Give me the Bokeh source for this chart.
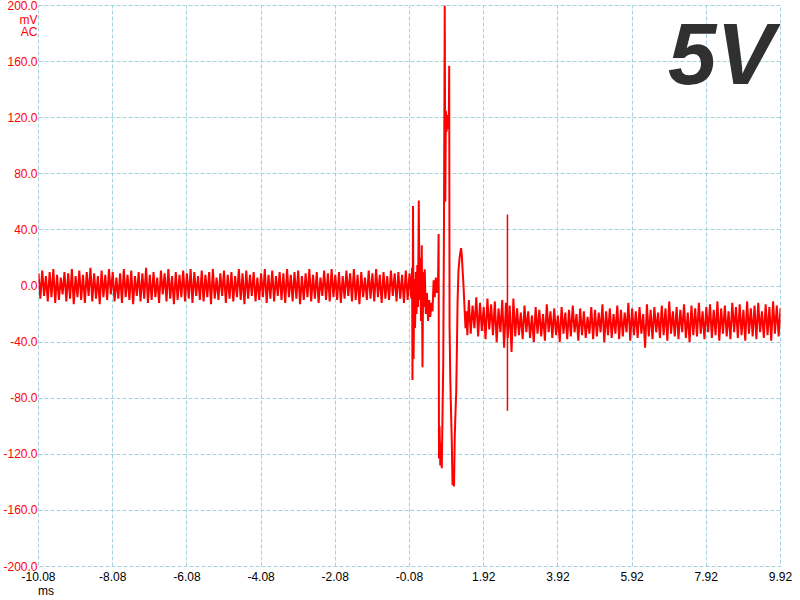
from bokeh.plotting import figure
from bokeh.models import FixedTicker, NumeralTickFormatter, Label, Range1d, LinearAxis
from bokeh.embed import file_html
from bokeh.resources import INLINE

# ---- axis ticks ----
x_ticks = [-10.08, -8.08, -6.08, -4.08, -2.08, -0.08, 1.92, 3.92, 5.92, 7.92, 9.92]
y_ticks = [-200, -160, -120, -80, -40, 0, 40, 80, 120, 160, 200]
y_unit_labels = {190: "mV", 181: "AC"}
x_unit_label = {-9.88: "ms"}

# ---- pre-trigger noise band (ms sampling start/step, mV peak readings) ----
pre_start, pre_step = -10.08, 0.1
pre_hi = [9, 11, 7, 10, 12, 8, 6, 10, 9, 12,
          7, 11, 8, 10, 13, 9, 7, 11, 8, 12,
          10, 6, 9, 12, 8, 11, 7, 10, 9, 13,
          8, 10, 6, 11, 9, 12, 7, 10, 8, 11,
          9, 12, 10, 7, 11, 8, 10, 12, 6, 9,
          11, 8, 10, 7, 12, 9, 11, 8, 10, 6,
          9, 12, 8, 11, 7, 10, 9, 12, 8, 10,
          11, 7, 9, 12, 8, 10, 6, 11, 9, 12,
          8, 10, 7, 11, 9, 12, 8, 10, 6, 11,
          9, 12, 8, 10, 7, 11, 9, 10, 8, 11, 9]
pre_lo = [-9, -7, -11, -8, -12, -10, -6, -11, -9, -13,
          -8, -10, -12, -7, -11, -9, -13, -8, -10, -6,
          -11, -9, -12, -8, -10, -13, -7, -11, -9, -12,
          -10, -8, -12, -6, -11, -9, -13, -10, -8, -11,
          -9, -12, -7, -10, -11, -8, -13, -9, -10, -7,
          -12, -9, -11, -8, -10, -13, -9, -7, -11, -10,
          -8, -12, -9, -11, -7, -10, -12, -8, -11, -9,
          -13, -10, -8, -11, -9, -12, -7, -10, -11, -8,
          -10, -12, -9, -7, -11, -10, -13, -8, -10, -9,
          -11, -8, -12, -9, -10, -7, -11, -9, -12, -10, -9]

# ---- trigger event (ms, mV) ----
event_t = [-0.01, 0.00, 0.015, 0.03, 0.05, 0.07, 0.09, 0.11, 0.13, 0.15,
           0.17, 0.19, 0.21, 0.23, 0.25, 0.27, 0.29, 0.31, 0.33, 0.36,
           0.39, 0.42, 0.45, 0.48, 0.51, 0.54, 0.57, 0.60, 0.63, 0.66,
           0.69, 0.705, 0.715, 0.73, 0.75, 0.77, 0.79, 0.81, 0.83, 0.85,
           0.87, 0.885, 0.90, 0.92, 0.94, 0.96, 0.98, 0.99, 1.00, 1.02,
           1.04, 1.06, 1.08, 1.10, 1.12, 1.14, 1.16, 1.18, 1.20, 1.215,
           1.24, 1.27, 1.29, 1.31, 1.33, 1.35, 1.376, 1.39, 1.41, 1.43,
           1.45, 1.48, 1.50]
event_v = [13, -67, 57, -52, 5, -30, 10, -20, 15, -15,
           61, -10, 20, -25, 29, -58, 10, -15, 12, -20,
           -5, -25, -10, -22, -12, -18, 4, -8, 6, -5,
           5, 37, -123, -100, -128, -112, -130, -91, -55, 47,
           200, 60, 125, 110, 122, 112, 118, 157, -29, -67,
           -90, -111, -142, -130, -143, -107, -90, -75, -41, -12,
           11, 20, 24, 27, 22, 12, 0, -8, -20, -30,
           -18, -35, -22]

# ---- post-trigger noise band ----
post_start, post_step = 1.52, 0.1
post_hi = [-10, -14, -8, -12, -15, -9, -13, -11, -16, -10, -12, -14, -9,
           -16, -19, -14, -18, -21, -15, -17, -20, -13, -18,
           -16, -21, -15, -19, -17, -14, -20, -16, -18, -22,
           -15, -17, -19, -13, -18, -16, -20, -14, -17, -19,
           -12, -16, -18, -15, -20, -13, -17, -15, -19, -14,
           -16, -11, -18, -15, -17, -13, -19, -14, -16, -12,
           -18, -15, -13, -17, -11, -16, -14, -18, -12, -15,
           -13, -17, -11, -16, -14, -12, -18, -13, -15, -11,
           -14, -16]
post_lo = [-34, -30, -36, -32, -38, -31, -35, -40, -33, -44, -37, -47, -36,
           -35, -38, -33, -37, -40, -34, -36, -39, -33, -37,
           -35, -40, -34, -38, -36, -33, -39, -35, -37, -34,
           -38, -36, -33, -40, -35, -37, -34, -38, -36, -33,
           -39, -35, -37, -34, -44, -36, -38, -33, -37, -35,
           -39, -34, -36, -38, -33, -37, -40, -35, -36, -34,
           -38, -33, -37, -35, -39, -34, -36, -38, -33, -37,
           -35, -39, -34, -36, -38, -33, -37, -35, -39, -34,
           -36, -35]

# ---- isolated glitch ----
glitch_t = [2.56]
glitch_hi = [51]
glitch_lo = [-89]

RED = "#ff0000"
GRID = "#a3d3df"
FONT = "Liberation Sans"


def zigzag(start, step, hi, lo):
    xs, ys = [], []
    for i, (h, l) in enumerate(zip(hi, lo)):
        t = start + step * i
        xs += [t, t + step / 2]
        ys += [h, l]
    return xs, ys


px, py = zigzag(pre_start, pre_step, pre_hi, pre_lo)
qx, qy = zigzag(post_start, post_step, post_hi, post_lo)
trace_x = px + event_t + qx
trace_y = py + event_v + qy

p = figure(frame_width=742, frame_height=561,
           x_range=Range1d(-10.08, 9.92), y_range=Range1d(-200, 200),
           output_backend="svg", toolbar_location=None,
           min_border_left=36, min_border_right=18,
           min_border_top=5, min_border_bottom=34)
p.background_fill_color = "white"
p.border_fill_color = "white"
p.outline_line_color = GRID
p.outline_line_dash = "4 2"

# secondary bottom axis carrying only the unit label "ms"
ms_axis = LinearAxis(ticker=FixedTicker(ticks=list(x_unit_label.keys())),
                     major_label_overrides=x_unit_label)
p.add_layout(ms_axis, "below")

for ax in (p.xaxis[0], p.yaxis[0], ms_axis):
    ax.axis_line_color = None
    ax.major_tick_line_color = None
    ax.minor_tick_line_color = None
    ax.major_tick_out = 0
    ax.major_tick_in = 0
    ax.minor_tick_out = 0
    ax.minor_tick_in = 0
    ax.major_label_text_font = FONT
    ax.major_label_text_font_size = "12px"

p.xaxis[0].ticker = FixedTicker(ticks=x_ticks)
p.xaxis[0].formatter = NumeralTickFormatter(format="0.00")
p.xaxis[0].major_label_text_color = "black"
p.xaxis[0].major_label_standoff = 5
ms_axis.major_label_text_color = "black"
ms_axis.major_label_standoff = 0

p.yaxis[0].ticker = FixedTicker(ticks=y_ticks + list(y_unit_labels.keys()))
p.yaxis[0].formatter = NumeralTickFormatter(format="0.0")
p.yaxis[0].major_label_overrides = y_unit_labels
p.yaxis[0].major_label_text_color = RED
p.yaxis[0].major_label_standoff = 1

p.xgrid[0].ticker = FixedTicker(ticks=x_ticks)
p.ygrid[0].ticker = FixedTicker(ticks=y_ticks)
for g in (p.xgrid[0], p.ygrid[0]):
    g.grid_line_color = GRID
    g.grid_line_dash = "4 2"
    g.grid_line_width = 1

p.line(trace_x, trace_y, line_color=RED, line_width=2)
p.segment(x0=glitch_t, y0=glitch_lo, x1=glitch_t, y1=glitch_hi,
          line_color=RED, line_width=1.5)

p.add_layout(Label(x=9.92, y=200, x_offset=-6, y_offset=-48, text="5V",
                   text_align="right", text_baseline="alphabetic",
                   text_color="#303030", text_font=FONT,
                   text_font_style="bold italic", text_font_size="87px"))

open("out.html", "w").write(file_html(p, INLINE))
